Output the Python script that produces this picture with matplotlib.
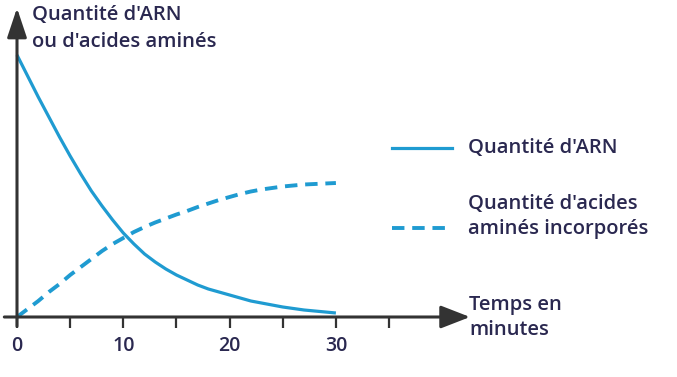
import matplotlib
matplotlib.use("Agg")
import matplotlib.pyplot as plt

# Data (arbitrary units)
time_min = list(range(0, 31))
arn = [262, 241, 220, 200, 180, 161, 143, 126, 111, 97, 84, 73, 63, 55, 48, 42,
       37, 32, 28, 25, 22, 19, 16, 14, 12, 10, 8.5, 7, 6, 5, 4]
acides = [0, 8, 16, 25, 33, 42, 50, 58, 66, 73, 79, 85, 90, 94.5, 98.5, 102.5,
          106, 110, 113.5, 117, 120, 123, 125.5, 127.5, 129, 130.5, 131.5, 132.5, 133, 133.5, 134]
major_ticks = [0, 10, 20, 30]
minor_ticks = [5, 15, 25, 35]

plt.rcParams['font.family'] = ['Open Sans', 'DejaVu Sans']
BLUE = '#1f9bd1'
TXT = '#2a2850'
AX = '#333333'

W, H = 677, 377
fig = plt.figure(figsize=(W / 100, H / 100), dpi=100)
x0, y0, x1, y1 = 17, 317, 470, 8
ax = fig.add_axes([x0 / W, (H - y0) / H, (x1 - x0) / W, (y0 - y1) / H])
ax.set_xlim(0, (x1 - x0) / 10.63)
ax.set_ylim(0, y0 - y1)
for s in ax.spines.values():
    s.set_visible(False)
ax.patch.set_alpha(0)

# Axes with arrows
ax.annotate('', xy=(1, 0), xytext=(-0.028, 0), xycoords='axes fraction',
            arrowprops=dict(arrowstyle='-|>,head_length=0.9,head_width=0.35',
                            color=AX, lw=2.2, mutation_scale=20, shrinkA=0, shrinkB=0))
ax.annotate('', xy=(0, 1), xytext=(0, -0.03), xycoords='axes fraction',
            arrowprops=dict(arrowstyle='-|>,head_length=0.9,head_width=0.3',
                            color=AX, lw=2.2, mutation_scale=20, shrinkA=0, shrinkB=0))

ax.set_xticks(major_ticks)
ax.set_xticks(minor_ticks, minor=True)
ax.set_yticks([])
ax.tick_params(axis='x', which='both', direction='out', length=8, width=1.6,
               color=AX, labelsize=14, labelcolor=TXT, pad=6)
for lbl in ax.get_xticklabels():
    lbl.set_fontweight('semibold')

ax.plot(time_min, arn, color=BLUE, lw=2.3, solid_capstyle='butt',
        solid_joinstyle='round', clip_on=False)
ax.plot(time_min, acides, color=BLUE, lw=2.8, dashes=(3.2, 2.0),
        dash_capstyle='butt', clip_on=False)

def px(x, y):
    return (x / W, 1 - y / H)

FS = 14.5
kw = dict(fontsize=FS, color=TXT, va='center', ha='left', fontweight='semibold')
fig.text(*px(32, 15), "Quantité d'ARN", **kw)
fig.text(*px(32, 42), "ou d'acides aminés", **kw)

# Legend
fig.add_artist(plt.Line2D([392 / W, 452 / W], [1 - 148 / H] * 2, color=BLUE, lw=2.3))
fig.add_artist(plt.Line2D([392 / W, 452 / W], [1 - 228 / H] * 2, color=BLUE, lw=2.8,
                          dashes=(3.2, 2.0), dash_capstyle='butt'))
fig.text(*px(468, 148), "Quantité d'ARN", **kw)
fig.text(*px(468, 204), "Quantité d'acides", **kw)
fig.text(*px(468, 229), "aminés incorporés", **kw)

fig.text(*px(469, 305), "Temps en", **kw)
fig.text(*px(469, 330), "minutes", **kw)

fig.savefig('out.png', dpi=100)
